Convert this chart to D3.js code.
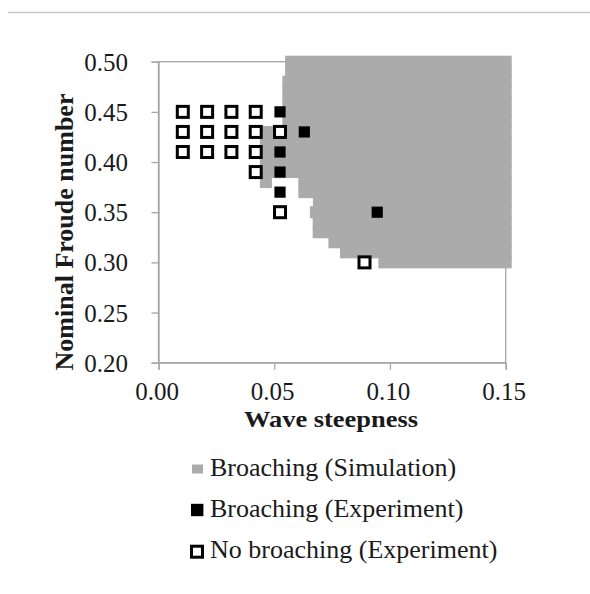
<!DOCTYPE html>
<html>
<head>
<meta charset="utf-8">
<script src="https://cdn.jsdelivr.net/npm/d3@7"></script>
<style>
  html, body { margin: 0; padding: 0; background: #ffffff; }
  svg { display: block; }
  text { font-family: "Liberation Serif", "Times New Roman", serif; fill: #1a1a1a; }
</style>
</head>
<body>
<div id="chart"></div>
<script>
// ---- Data ----
const xTicks = [0.00, 0.05, 0.10, 0.15];
const yTicks = [0.20, 0.25, 0.30, 0.35, 0.40, 0.45, 0.50];

// Simulation broaching region: per Froude-number row, range of wave steepness
const simFn   = [0.50, 0.49, 0.48, 0.47, 0.46, 0.45, 0.44, 0.43, 0.42, 0.41, 0.40, 0.39, 0.38, 0.38, 0.37, 0.36, 0.35, 0.34, 0.33, 0.32, 0.31, 0.30];
const simFrom = [0.0573, 0.0573, 0.0561, 0.0561, 0.0561, 0.0561, 0.0561, 0.0464, 0.0464, 0.0464, 0.0464, 0.0464, 0.0464, 0.0630, 0.0630, 0.0693, 0.0680, 0.0692, 0.0692, 0.0760, 0.0810, 0.0976];
const simTo   = [0.15, 0.15, 0.15, 0.15, 0.15, 0.15, 0.15, 0.15, 0.15, 0.15, 0.15, 0.15, 0.0464, 0.15, 0.15, 0.15, 0.15, 0.15, 0.15, 0.15, 0.15, 0.15];

// Experiment: broaching
const brX  = [0.0525, 0.0525, 0.0525, 0.0525, 0.063, 0.0945];
const brFn = [0.45, 0.41, 0.39, 0.37, 0.43, 0.35];

// Experiment: no broaching
const noX  = [0.0105, 0.0105, 0.0105, 0.021, 0.021, 0.021, 0.0315, 0.0315, 0.0315, 0.042, 0.042, 0.042, 0.042, 0.0525, 0.0525, 0.089];
const noFn = [0.45, 0.43, 0.41, 0.45, 0.43, 0.41, 0.45, 0.43, 0.41, 0.45, 0.43, 0.41, 0.39, 0.43, 0.35, 0.30];

const legendLabels = ["Broaching (Simulation)", "Broaching (Experiment)", "No broaching (Experiment)"];

// ---- Layout ----
const W = 590, H = 594;
const svg = d3.select("#chart").append("svg").attr("width", W).attr("height", H);

const x = d3.scaleLinear().domain([0, 0.15]).range([158.5, 505.7]);
const y = d3.scaleLinear().domain([0.20, 0.50]).range([362.7, 61.7]);
const axisColor = "#a6a6a6";

// top separator line
svg.append("line").attr("x1", 8).attr("x2", 590).attr("y1", 12.5).attr("y2", 12.5)
  .attr("stroke", "#c8c8c8").attr("stroke-width", 1.5);

// plot border
svg.append("rect")
  .attr("x", x(0)).attr("y", y(0.5))
  .attr("width", x(0.15) - x(0)).attr("height", y(0.2) - y(0.5))
  .attr("fill", "none").attr("stroke", axisColor).attr("stroke-width", 1.3);

// simulation region
const half = 6;
svg.append("g").selectAll("rect").data(simFn.map((f, i) => ({f, a: simFrom[i], b: simTo[i]})))
  .join("rect")
  .attr("x", d => x(d.a) - half)
  .attr("y", d => y(d.f) - half)
  .attr("width", d => x(d.b) - x(d.a) + 2 * half)
  .attr("height", 2 * half)
  .attr("fill", "#ababab");

// axes
const gx = svg.append("g").attr("transform", `translate(0,${y(0.2)})`)
  .call(d3.axisBottom(x).tickValues(xTicks).tickSize(7).tickFormat(d3.format(".2f")));
gx.select(".domain").attr("stroke", axisColor).attr("stroke-width", 1.3);
gx.selectAll(".tick line").attr("stroke", axisColor).attr("stroke-width", 1.3);
gx.selectAll(".tick text").attr("y", 37).attr("dy", 0).attr("dx", -2)
  .style("font-size", "25px").style("font-family", "Liberation Serif").attr("fill", "#1a1a1a");

const gy = svg.append("g").attr("transform", `translate(${x(0)},0)`)
  .call(d3.axisLeft(y).tickValues(yTicks).tickSize(7).tickFormat(d3.format(".2f")));
gy.select(".domain").attr("stroke", axisColor).attr("stroke-width", 1.3);
gy.selectAll(".tick line").attr("stroke", axisColor).attr("stroke-width", 1.3);
gy.selectAll(".tick text").attr("x", -30.5).attr("dy", 8.5)
  .style("font-size", "25px").style("font-family", "Liberation Serif").attr("fill", "#1a1a1a");

// axis titles
svg.append("text").attr("x", 331).attr("y", 427).attr("text-anchor", "middle")
  .attr("textLength", 174).attr("lengthAdjust", "spacingAndGlyphs")
  .style("font-size", "24px").style("font-weight", "bold").text("Wave steepness");
svg.append("text").attr("transform", "translate(73,232) rotate(-90)").attr("text-anchor", "middle")
  .style("font-size", "26px").style("font-weight", "bold").text("Nominal Froude number");

// experiment markers
svg.append("g").selectAll("rect").data(noX.map((v, i) => [v, noFn[i]]))
  .join("rect")
  .attr("x", d => x(d[0]) - 5.5).attr("y", d => y(d[1]) - 5.5)
  .attr("width", 11).attr("height", 11)
  .attr("fill", "#ffffff").attr("stroke", "#000000").attr("stroke-width", 3);

svg.append("g").selectAll("rect").data(brX.map((v, i) => [v, brFn[i]]))
  .join("rect")
  .attr("x", d => x(d[0]) - 5.6).attr("y", d => y(d[1]) - 5.6)
  .attr("width", 11.2).attr("height", 11.2)
  .attr("fill", "#000000");

// legend
const lg = svg.append("g");
const rowsY = [469, 510, 551.7];
lg.append("rect").attr("x", 192).attr("y", rowsY[0] - 4.5).attr("width", 11).attr("height", 9).attr("fill", "#ababab");
lg.append("rect").attr("x", 191).attr("y", rowsY[1] - 6.2).attr("width", 12.4).attr("height", 12.4).attr("fill", "#000");
lg.append("rect").attr("x", 191.5).attr("y", rowsY[2] - 5.5).attr("width", 11).attr("height", 11)
  .attr("fill", "#fff").attr("stroke", "#000").attr("stroke-width", 3);
const baselines = [476, 516.7, 558.3];
legendLabels.forEach((t, i) => {
  lg.append("text").attr("x", 210).attr("y", baselines[i]).style("font-size", "26px").text(t);
});
</script>
</body>
</html>
